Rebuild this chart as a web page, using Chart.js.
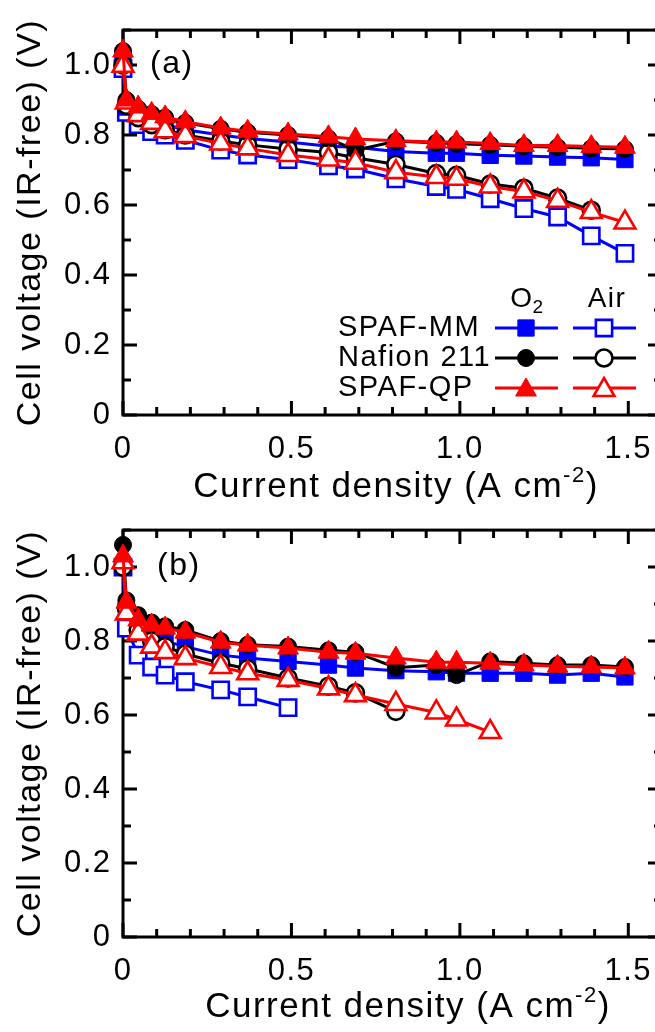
<!DOCTYPE html>
<html><head><meta charset="utf-8">
<script src="https://cdn.jsdelivr.net/npm/chart.js@4.4.1/dist/chart.umd.min.js"></script>
<style>
html,body{margin:0;padding:0;background:#fff;width:655px;height:1032px;overflow:hidden;position:relative;}
canvas{position:absolute;left:0;}
#ca{top:0}
#cb{top:500px}
</style></head><body>
<canvas id="ca" width="680" height="520"></canvas>
<canvas id="cb" width="680" height="532"></canvas>
<script>
// ---- data (current density in A cm^-2, voltage in V) ----
const currentDensity = [0, 0.01, 0.045, 0.085, 0.125, 0.185, 0.29, 0.37, 0.49, 0.61, 0.69, 0.81, 0.93, 0.99, 1.09, 1.19, 1.29, 1.39, 1.49];

// panel (a)
const qpO2A   = [1.04, 0.90, 0.88, 0.862, 0.852, 0.838, 0.82, 0.811, 0.803, 0.795, 0.789, 0.784, 0.78, 0.78, 0.776, 0.77, 0.77, 0.767, 0.765];
const qpAirA  = [0.998, 0.893, 0.857, 0.835, 0.811, 0.797, 0.776, 0.762, 0.743, 0.73, 0.721, 0.694, 0.68, 0.675, 0.653, 0.639, 0.612, 0.58, 0.55];
const nafO2A  = [1.04, 0.90, 0.875, 0.86, 0.85, 0.835, 0.818, 0.808, 0.80, 0.79, 0.757, 0.782, 0.778, 0.775, 0.772, 0.768, 0.765, 0.762, 0.76];
const nafAirA = [1.0, 0.885, 0.85, 0.83, 0.815, 0.80, 0.783, 0.772, 0.76, 0.75, 0.735, 0.716, 0.69, 0.685, 0.66, 0.648, 0.62, 0.585];
const mmO2A   = [1.02, 0.88, 0.855, 0.84, 0.83, 0.815, 0.80, 0.79, 0.78, 0.768, 0.765, 0.753, 0.748, 0.748, 0.742, 0.74, 0.737, 0.735, 0.73];
const mmAirA  = [0.99, 0.865, 0.83, 0.81, 0.80, 0.785, 0.757, 0.743, 0.73, 0.712, 0.703, 0.675, 0.653, 0.645, 0.618, 0.59, 0.566, 0.512, 0.462];

// panel (b)
const qpO2B   = [1.03, 0.905, 0.857, 0.843, 0.835, 0.824, 0.797, 0.789, 0.781, 0.77, 0.767, 0.754, 0.743, 0.743, 0.74, 0.735, 0.732, 0.73, 0.727];
const qpAirB  = [1.013, 0.875, 0.82, 0.785, 0.77, 0.754, 0.73, 0.713, 0.695, 0.672, 0.654, 0.63, 0.607, 0.588, 0.554];
const nafO2B  = [1.06, 0.91, 0.87, 0.85, 0.84, 0.83, 0.80, 0.79, 0.785, 0.775, 0.77, 0.728, 0.735, 0.708, 0.745, 0.74, 0.735, 0.735, 0.73];
const nafAirB = [1.0, 0.89, 0.83, 0.80, 0.785, 0.765, 0.74, 0.725, 0.70, 0.678, 0.66, 0.61];
const mmO2B   = [1.0, 0.885, 0.84, 0.815, 0.80, 0.785, 0.762, 0.754, 0.745, 0.735, 0.727, 0.72, 0.717, 0.713, 0.713, 0.713, 0.708, 0.713, 0.703];
const mmAirB  = [1.0, 0.835, 0.762, 0.73, 0.708, 0.69, 0.668, 0.649, 0.62];

// tick labels and texts
const xTickValues = [0, 0.5, 1.0, 1.5];
const yTickValues = [0, 0.2, 0.4, 0.6, 0.8, 1.0];
const seriesNames = ['SPAF-MM', 'Nafion 211', 'SPAF-QP'];
const gasNames = ['O2', 'Air'];
const yTitle = 'Cell voltage (IR-free) (V)';
const xTitleMain = 'Current density (A cm';
const xTitleSup = '-2';

// ---- styles ----
const FONT = '"Liberation Sans", Arial, Helvetica, sans-serif';
const SPACING = '1.5px';
const RED = '#ff0000', BLUE = '#0000ff', BLACK = '#000000';
const R_TRI = 12, R_SQ = 11.5, R_CIR = 8.5;
const LINE_W = 3;

function pts(ys) { return ys.map((y, i) => ({ x: currentDensity[i], y })); }
function series(label, ys, color, shape, filled, r) {
  return {
    label, data: pts(ys), borderColor: color, backgroundColor: color, borderWidth: LINE_W,
    pointStyle: shape, pointRadius: r, pointHoverRadius: r,
    pointBackgroundColor: filled ? color : '#ffffff', pointBorderColor: color,
    pointBorderWidth: filled ? 1 : 2.6, tension: 0, clip: false, fill: false
  };
}
function datasetsFor(qpO2, qpAir, nafO2, nafAir, mmO2, mmAir) {
  return [
    series('SPAF-QP O2', qpO2, RED, 'triangle', true, R_TRI),
    series('SPAF-QP Air', qpAir, RED, 'triangle', false, R_TRI),
    series('Nafion 211 O2', nafO2, BLACK, 'circle', true, R_CIR),
    series('Nafion 211 Air', nafAir, BLACK, 'circle', false, R_CIR),
    series('SPAF-MM O2', mmO2, BLUE, 'rect', true, R_SQ),
    series('SPAF-MM Air', mmAir, BLUE, 'rect', false, R_SQ)
  ];
}
const fmt = v => (Math.abs(v) < 1e-9 ? '0' : Number(v).toFixed(1));

function drawMarker(ctx, shape, x, y, color, filled) {
  ctx.save();
  ctx.beginPath();
  if (shape === 'rect') {
    const s = R_SQ * Math.SQRT1_2;
    ctx.rect(x - s, y - s, 2 * s, 2 * s);
  } else if (shape === 'circle') {
    ctx.arc(x, y, R_CIR, 0, Math.PI * 2);
  } else {
    const r = R_TRI;
    ctx.moveTo(x, y - r);
    ctx.lineTo(x + r * Math.sin(2 * Math.PI / 3), y - r * Math.cos(2 * Math.PI / 3));
    ctx.lineTo(x + r * Math.sin(4 * Math.PI / 3), y - r * Math.cos(4 * Math.PI / 3));
    ctx.closePath();
  }
  ctx.fillStyle = filled ? color : '#ffffff';
  ctx.fill();
  ctx.lineWidth = filled ? 1 : 2.6;
  ctx.strokeStyle = color;
  ctx.stroke();
  ctx.restore();
}

function decorPlugin(cfg) {
  return {
    id: 'decor',
    beforeDraw(chart) {
      if ('letterSpacing' in chart.ctx) chart.ctx.letterSpacing = SPACING;
    },
    beforeDatasetsDraw(chart) {
      const { ctx, chartArea: a, scales: { x, y } } = chart;
      ctx.save();
      ctx.strokeStyle = '#000';
      ctx.lineWidth = 3;
      ctx.lineCap = 'butt';
      ctx.strokeRect(a.left, a.top, a.right - a.left, a.bottom - a.top);
      // inward ticks on all four sides
      for (let i = 0; i <= 16; i++) {
        const px = x.getPixelForValue(i / 10);
        const len = i % 5 === 0 ? 14 : 8;
        ctx.beginPath();
        ctx.moveTo(px, a.bottom); ctx.lineTo(px, a.bottom - len);
        ctx.moveTo(px, a.top); ctx.lineTo(px, a.top + len);
        ctx.stroke();
      }
      for (let i = 0; i <= 11; i++) {
        const py = y.getPixelForValue(i / 10);
        const len = i % 2 === 0 ? 14 : 8;
        ctx.beginPath();
        ctx.moveTo(a.left, py); ctx.lineTo(a.left + len, py);
        ctx.moveTo(a.right, py); ctx.lineTo(a.right - len, py);
        ctx.stroke();
      }
      // panel label
      ctx.fillStyle = '#000';
      ctx.font = '32px ' + FONT;
      ctx.textAlign = 'left';
      ctx.textBaseline = 'middle';
      ctx.fillText(cfg.panel, a.left + cfg.panelDx, a.top + cfg.panelDy);
      // x axis title with superscript
      ctx.font = '35px ' + FONT;
      const w1 = ctx.measureText(xTitleMain).width;
      ctx.font = '22px ' + FONT;
      const w2 = ctx.measureText(xTitleSup).width;
      ctx.font = '35px ' + FONT;
      const w3 = ctx.measureText(')').width;
      const total = w1 + w2 + w3;
      const sx = cfg.xTitleCx - total / 2;
      const ty = a.bottom + cfg.xTitleDy;
      ctx.textBaseline = 'alphabetic';
      ctx.fillText(xTitleMain, sx, ty);
      ctx.font = '22px ' + FONT;
      ctx.fillText(xTitleSup, sx + w1, ty - 15);
      ctx.font = '35px ' + FONT;
      ctx.fillText(')', sx + w1 + w2, ty);
      // legend
      if (cfg.legend) {
        const L = cfg.legend;
        ctx.font = '28px ' + FONT;
        ctx.textBaseline = 'middle';
        const oW = ctx.measureText('O').width;
        ctx.font = '19px ' + FONT;
        const sW = ctx.measureText('2').width;
        ctx.font = '28px ' + FONT;
        ctx.textAlign = 'left';
        const ox = L.col1 - (oW + sW) / 2 + 2;
        ctx.fillText(gasNames[0].charAt(0), ox, L.headY);
        ctx.font = '19px ' + FONT;
        ctx.fillText(gasNames[0].charAt(1), ox + oW - 1, L.headY + 9);
        ctx.font = '28px ' + FONT;
        ctx.textAlign = 'center';
        ctx.fillText(gasNames[1], L.col2 + 3, L.headY);
        const rows = [
          { name: seriesNames[0], color: BLUE, shape: 'rect' },
          { name: seriesNames[1], color: BLACK, shape: 'circle' },
          { name: seriesNames[2], color: RED, shape: 'triangle' }
        ];
        ctx.font = '29px ' + FONT;
        rows.forEach((r, k) => {
          const ry = L.rowY + k * L.rowGap;
          ctx.textAlign = 'left';
          ctx.fillStyle = '#000';
          ctx.fillText(r.name, L.textX, ry);
          ctx.strokeStyle = r.color;
          ctx.lineWidth = LINE_W;
          [[L.col1, true], [L.col2, false]].forEach(([cx, filled]) => {
            ctx.beginPath();
            ctx.moveTo(cx - 31, ry); ctx.lineTo(cx + 32, ry);
            ctx.stroke();
            drawMarker(ctx, r.shape, cx, ry + (r.shape === 'triangle' ? 2 : 0), r.color, filled);
          });
        });
      }
      ctx.restore();
    }
  };
}

function makeChart(id, datasets, cfg) {
  return new Chart(document.getElementById(id), {
    type: 'line',
    data: { datasets },
    options: {
      responsive: false, animation: false, devicePixelRatio: 1, events: [],
      layout: { padding: { top: cfg.top, right: 18, left: 0, bottom: 0 } },
      plugins: { legend: { display: false }, tooltip: { enabled: false } },
      scales: {
        x: {
          type: 'linear', min: 0, max: 1.6,
          grid: { display: false, drawTicks: false }, border: { display: false },
          afterBuildTicks: s => { s.ticks = xTickValues.map(v => ({ value: v })); },
          afterFit: s => { s.height = cfg.xHeight; },
          ticks: { font: { family: FONT, size: 31 }, color: '#000', padding: cfg.xPad, maxRotation: 0, autoSkip: false, callback: fmt }
        },
        y: {
          type: 'linear', min: 0, max: 1.1,
          grid: { display: false, drawTicks: false }, border: { display: false },
          afterBuildTicks: s => { s.ticks = yTickValues.map(v => ({ value: v })); },
          afterFit: s => { s.width = 123; },
          ticks: { font: { family: FONT, size: 31 }, color: '#000', padding: 11.5, autoSkip: false, callback: fmt },
          title: { display: true, text: yTitle, color: '#000', font: { family: FONT, size: 34 }, padding: { top: 10, bottom: 0 } }
        }
      }
    },
    plugins: [decorPlugin(cfg)]
  });
}

makeChart('ca', datasetsFor(qpO2A, qpAirA, nafO2A, nafAirA, mmO2A, mmAirA), {
  top: 10, xHeight: 105, xPad: 16, panel: '(a)', panelDx: 27, panelDy: 34,
  xTitleCx: 396, xTitleDy: 82,
  legend: { textX: 338, col1: 526, col2: 604, headY: 299, rowY: 328, rowGap: 30 }
});
makeChart('cb', datasetsFor(qpO2B, qpAirB, nafO2B, nafAirB, mmO2B, mmAirB), {
  top: 29, xHeight: 95, xPad: 16, panel: '(b)', panelDx: 34, panelDy: 36,
  xTitleCx: 408, xTitleDy: 80
});
</script>
</body></html>
